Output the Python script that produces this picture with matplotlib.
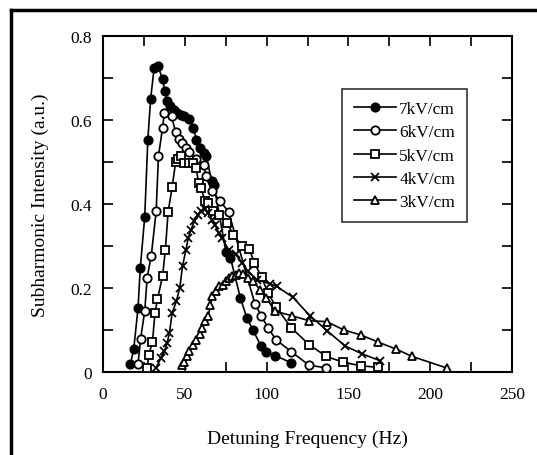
"""
Subharmonic intensity vs detuning frequency for several field strengths
"""

import matplotlib
matplotlib.use("Agg")
import matplotlib.pyplot as plt
import matplotlib.ticker as mticker
from matplotlib.lines import Line2D

plt.rcParams["font.family"] = ["Liberation Serif", "DejaVu Serif"]

# ── Data ──────────────────────────────────────────────────────
x_7kv = [16.8, 18.8, 21.4, 22.8, 25.5, 27.4, 29.1, 31.2, 33.7, 36.4, 37.7, 39.4,
         41.2, 43.3, 45.4, 47.5, 49.6, 52.8, 55.3, 57.0, 59.0, 61.6, 63.2, 66.4,
         67.8, 75.2, 77.9, 84.0, 88.0, 91.5, 96.7, 99.9, 105.1, 115.2]
y_7kv = [0.019, 0.055, 0.152, 0.248, 0.369, 0.553, 0.649, 0.723, 0.728, 0.697,
         0.670, 0.645, 0.633, 0.625, 0.617, 0.613, 0.609, 0.603, 0.581, 0.553,
         0.534, 0.522, 0.514, 0.454, 0.446, 0.285, 0.272, 0.176, 0.128, 0.101,
         0.061, 0.047, 0.039, 0.022]

x_6kv = [21.4, 23.0, 25.5, 27.0, 29.5, 32.5, 33.9, 36.4, 37.5, 41.9, 44.4, 46.5,
         48.2, 50.7, 52.3, 57.0, 61.6, 62.8, 66.8, 71.6, 76.8, 92.8, 96.7, 100.9,
         105.7, 115.2, 126.0, 136.5]
y_6kv = [0.019, 0.079, 0.145, 0.225, 0.277, 0.383, 0.514, 0.581, 0.617, 0.609,
         0.571, 0.555, 0.545, 0.534, 0.523, 0.506, 0.494, 0.466, 0.430, 0.407,
         0.381, 0.163, 0.134, 0.105, 0.077, 0.048, 0.016, 0.010]

x_5kv = [27.0, 28.0, 30.2, 31.8, 33.3, 36.4, 38.1, 39.8, 42.3, 44.4, 46.1, 47.9,
         49.6, 52.3, 54.9, 57.0, 58.4, 60.1, 62.2, 64.3, 67.4, 70.6, 75.8, 79.6,
         85.2, 89.4, 92.5, 96.9, 100.9, 105.7, 115.2, 126.0, 136.5, 147.0, 157.5,
         167.9]
y_5kv = [0.010, 0.041, 0.071, 0.141, 0.174, 0.228, 0.290, 0.381, 0.441, 0.500,
         0.508, 0.514, 0.498, 0.498, 0.498, 0.486, 0.450, 0.438, 0.407, 0.403,
         0.383, 0.375, 0.355, 0.327, 0.299, 0.293, 0.260, 0.226, 0.188, 0.155,
         0.105, 0.065, 0.037, 0.023, 0.015, 0.011]

x_4kv = [32.5, 35.4, 37.5, 39.2, 40.6, 42.3, 44.8, 46.9, 48.6, 50.7, 52.1, 53.8,
         55.9, 58.0, 60.1, 62.2, 64.3, 66.4, 68.5, 70.6, 72.7, 76.8, 81.0, 85.2,
         88.4, 94.0, 102.0, 106.2, 116.0, 126.5, 137.1, 147.9, 158.5, 169.3]
y_4kv = [0.010, 0.033, 0.049, 0.069, 0.093, 0.141, 0.168, 0.200, 0.252, 0.291,
         0.319, 0.339, 0.359, 0.375, 0.383, 0.387, 0.379, 0.363, 0.351, 0.331,
         0.319, 0.291, 0.280, 0.260, 0.240, 0.220, 0.210, 0.204, 0.178, 0.134,
         0.098, 0.062, 0.043, 0.027]

x_3kv = [48.2, 49.6, 51.3, 52.8, 54.9, 57.0, 59.0, 60.7, 62.2, 64.3, 65.7, 66.8,
         69.1, 70.9, 73.1, 75.2, 76.8, 78.9, 81.0, 83.1, 85.6, 88.4, 91.5, 96.1,
         99.9, 105.1, 115.3, 126.1, 136.7, 147.3, 157.7, 168.3, 178.9, 189.0, 210.5]
y_3kv = [0.016, 0.025, 0.037, 0.049, 0.065, 0.077, 0.091, 0.105, 0.121, 0.133,
         0.160, 0.180, 0.192, 0.204, 0.208, 0.216, 0.224, 0.228, 0.232, 0.236,
         0.234, 0.224, 0.216, 0.196, 0.176, 0.145, 0.134, 0.122, 0.120, 0.100,
         0.088, 0.071, 0.055, 0.037, 0.009]

SERIES = [
    ("7kV/cm", x_7kv, y_7kv, "o", "black"),
    ("6kV/cm", x_6kv, y_6kv, "o", "white"),
    ("5kV/cm", x_5kv, y_5kv, "s", "white"),
    ("4kV/cm", x_4kv, y_4kv, "x", "black"),
    ("3kV/cm", x_3kv, y_3kv, "^", "white"),
]

# ── Figure ────────────────────────────────────────────────────
fig = plt.figure(figsize=(5.37, 4.56), dpi=100)
fig.patch.set_facecolor("white")
ax = fig.add_axes([103 / 537, 1 - 373 / 456, 409 / 537, 336 / 456])

for label, xs, ys, mk, fc in SERIES:
    ax.plot(xs, ys, color="black", linewidth=1.2, marker=mk, markersize=6,
            markerfacecolor=fc, markeredgecolor="black", markeredgewidth=1.3,
            label=label, zorder=3)

ax.set_xlim(0, 250)
ax.set_ylim(0, 0.8)
ax.xaxis.set_major_locator(mticker.MultipleLocator(50))
ax.xaxis.set_minor_locator(mticker.MultipleLocator(25))
ax.yaxis.set_major_locator(mticker.MultipleLocator(0.2))
ax.yaxis.set_minor_locator(mticker.MultipleLocator(0.1))
ax.yaxis.set_major_formatter(mticker.FuncFormatter(
    lambda v, p: "0" if abs(v) < 1e-9 else f"{v:.1f}"))

ax.tick_params(which="both", direction="in", top=True, right=True,
               width=1.2, labelsize=12.5, length=7)
ax.tick_params(axis="x", pad=10)
ax.tick_params(axis="y", pad=8)
for s in ax.spines.values():
    s.set_linewidth(1.5)

ax.set_xlabel("Detuning Frequency (Hz)", fontsize=14, labelpad=20)
ax.set_ylabel("Subharmonic Intensity (a.u.)", fontsize=14, labelpad=15)

leg = ax.legend(loc="upper left", bbox_to_anchor=(0.584, 0.842),
                fontsize=12.5, frameon=True, fancybox=False, handlelength=2.4,
                borderpad=0.7, labelspacing=0.4, handletextpad=0.2,
                borderaxespad=0)
leg.get_frame().set_edgecolor("black")
leg.get_frame().set_linewidth(1.2)

# outer frame (only left and top edges fall inside the picture)
fx = 11 / 537
fy = 1 - 11 / 456
fig.add_artist(Line2D([fx, fx], [0, fy], transform=fig.transFigure,
                      color="black", linewidth=2.5))
fig.add_artist(Line2D([fx, 1], [fy, fy], transform=fig.transFigure,
                      color="black", linewidth=2.5))

fig.savefig("out.png", dpi=100)
